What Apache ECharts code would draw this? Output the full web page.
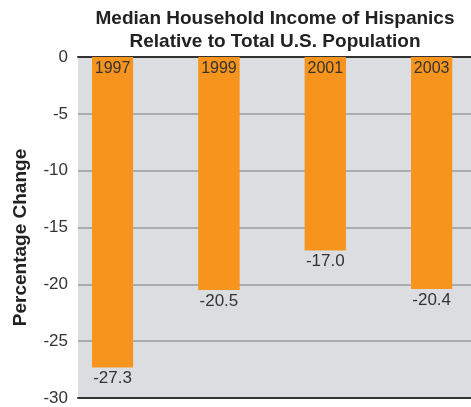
<!DOCTYPE html>
<html><head><meta charset="utf-8">
<script src="https://cdn.jsdelivr.net/npm/echarts@6/dist/echarts.min.js"></script>
<style>html,body{margin:0;padding:0;background:#fff}#c{width:471px;height:407px}</style>
</head><body><div id="c"></div>
<script>
const years = ['1997', '1999', '2001', '2003'];
const values = [-27.3, -20.5, -17.0, -20.4];
const positions = [0, 1, 2, 3];

const FONT = '"Liberation Sans", Arial, sans-serif';
const chart = echarts.init(document.getElementById('c'));
const barData = positions.map((p, i) => [p, values[i]]);
const xCommon = {
  type: 'value', min: -0.325, max: 3.37,
  axisTick: {show: false}, axisLabel: {show: false}, splitLine: {show: false}
};
chart.setOption({
  animation: false,
  title: {
    text: 'Median Household Income of Hispanics\nRelative to Total U.S. Population',
    left: 270, textAlign: 'center', top: 2,
    textStyle: {fontFamily: FONT, fontSize: 19, fontWeight: 'bold', color: '#222', lineHeight: 23}
  },
  grid: {left: 78, right: 0, top: 57, bottom: 9, show: true, backgroundColor: '#dcdde0', borderWidth: 0},
  xAxis: [
    Object.assign({}, xCommon, {position: 'top', axisLine: {show: true, onZero: false, lineStyle: {color: '#333', width: 2}}}),
    Object.assign({}, xCommon, {position: 'bottom', axisLine: {show: true, onZero: false, lineStyle: {color: '#333', width: 2}}})
  ],
  yAxis: {
    type: 'value', min: -30, max: 0, interval: 5,
    name: 'Percentage Change', nameLocation: 'middle', nameGap: 48,
    nameTextStyle: {fontFamily: FONT, fontSize: 19, fontWeight: 'bold', color: '#222', padding: [0, 20, 0, 0]},
    axisLine: {show: false}, axisTick: {show: false},
    axisLabel: {fontFamily: FONT, fontSize: 17, color: '#333', margin: 10},
    splitLine: {lineStyle: {color: '#9a9a9a', width: 1.5}}
  },
  series: [
    {
      type: 'bar', xAxisIndex: 0, data: barData, barWidth: 41,
      itemStyle: {color: '#f7941d'},
      label: {show: true, position: 'insideTop', distance: 4, fontFamily: FONT, fontSize: 16, color: '#333',
        formatter: p => years[p.dataIndex]}
    },
    {
      type: 'bar', xAxisIndex: 0, data: barData, barWidth: 41, barGap: '-100%',
      itemStyle: {color: '#f7941d'},
      label: {show: true, position: 'bottom', distance: 3, fontFamily: FONT, fontSize: 17, color: '#333',
        formatter: p => p.value[1].toFixed(1)},
      z: 1
    }
  ]
});
</script></body></html>
